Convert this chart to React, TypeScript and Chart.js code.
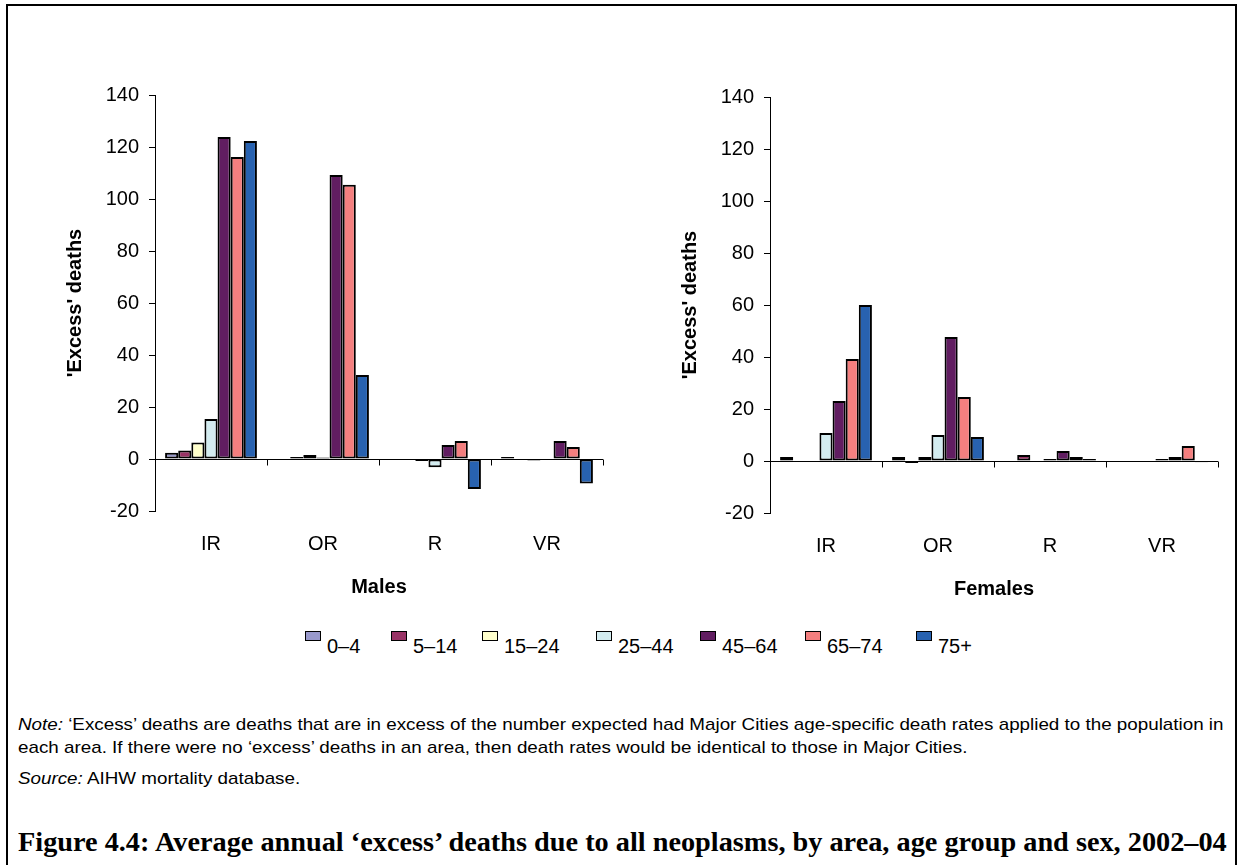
import React, { useEffect, useRef } from 'react';
import { Chart, registerables } from 'chart.js';

Chart.register(...registerables);

// ---------- data ----------
const CATEGORIES = ['IR', 'OR', 'R', 'VR'];
const AGE_GROUPS = ['0–4', '5–14', '15–24', '25–44', '45–64', '65–74', '75+'];
const AGE_COLORS = ['#9999cc', '#993366', '#ffffcc', '#d3ecf0', '#611d61', '#f47f7f', '#2862b0'];

const Y_MIN = -20;
const Y_MAX = 140;
const Y_STEP = 20;

// Males: values per area (IR, OR, R, VR)
const MALES_0_4 = [2.4, null, null, 0.8];
const MALES_5_14 = [3.3, 0.8, null, null];
const MALES_15_24 = [6.3, 1.5, -0.8, -0.6];
const MALES_25_44 = [15.4, 0.6, -3.2, null];
const MALES_45_64 = [123.8, 109.2, 5.4, 6.9];
const MALES_65_74 = [116.2, 105.5, 6.9, 4.6];
const MALES_75_PLUS = [122.3, 32.3, -11.5, -9.4];

// Females: values per area (IR, OR, R, VR)
const FEMALES_0_4 = [1.5, 1.5, null, null];
const FEMALES_5_14 = [null, -0.8, 2.3, null];
const FEMALES_15_24 = [null, 1.5, null, null];
const FEMALES_25_44 = [10.8, 10.0, 0.8, 0.8];
const FEMALES_45_64 = [23.1, 47.7, 3.8, 1.5];
const FEMALES_65_74 = [39.2, 24.6, 1.5, 5.8];
const FEMALES_75_PLUS = [60.0, 9.2, 0.8, -0.5];

const MALE_SERIES = [MALES_0_4, MALES_5_14, MALES_15_24, MALES_25_44, MALES_45_64, MALES_65_74, MALES_75_PLUS];
const FEMALE_SERIES = [FEMALES_0_4, FEMALES_5_14, FEMALES_15_24, FEMALES_25_44, FEMALES_45_64, FEMALES_65_74, FEMALES_75_PLUS];

const Y_TITLE = "'Excess' deaths";
const NOTE_LINE_1 = '‘Excess’ deaths are deaths that are in excess of the number expected had Major Cities age-specific death rates applied to the population in';
const NOTE_LINE_2 = 'each area. If there were no ‘excess’ deaths in an area, then death rates would be identical to those in Major Cities.';
const SOURCE_TEXT = 'AIHW mortality database.';
const CAPTION = 'Figure 4.4: Average annual ‘excess’ deaths due to all neoplasms, by area, age group and sex, 2002–04';

// ---------- layout / styling ----------
const SANS = '"Liberation Sans", Arial, sans-serif';
const SERIF = '"Liberation Serif", "Times New Roman", serif';
const LEGEND_LEFT = [305, 391, 482, 596, 700, 805, 916];

const zeroAxisPlugin = {
  id: 'zeroAxis',
  beforeDatasetsDraw(chart: any) {
    const { ctx, chartArea, scales } = chart;
    const xs = scales.x;
    const y0 = Math.round(scales.y.getPixelForValue(0)) + 0.5;
    ctx.save();
    ctx.strokeStyle = '#000';
    ctx.lineWidth = 1;
    ctx.beginPath();
    ctx.moveTo(chartArea.left, y0);
    ctx.lineTo(chartArea.right, y0);
    const n = CATEGORIES.length;
    for (let i = 1; i <= n; i++) {
      const bx = i < n
        ? (xs.getPixelForValue(i - 1) + xs.getPixelForValue(i)) / 2
        : chartArea.right;
      const px = Math.round(bx) + 0.5;
      ctx.moveTo(px, y0);
      ctx.lineTo(px, y0 + 6);
    }
    ctx.stroke();
    ctx.restore();
  },
};

function makeConfig(series: (number | null)[][], title: string): any {
  return {
    type: 'bar',
    data: {
      labels: CATEGORIES,
      datasets: series.map((vals, i) => ({
        label: AGE_GROUPS[i],
        data: vals,
        backgroundColor: AGE_COLORS[i],
        borderColor: '#000',
        borderWidth: 2,
        borderSkipped: false,
        barPercentage: 1,
        categoryPercentage: 0.82,
      })),
    },
    plugins: [zeroAxisPlugin],
    options: {
      responsive: false,
      animation: false,
      devicePixelRatio: 1,
      layout: { padding: { top: 8, right: 17, bottom: 0, left: 0 } },
      plugins: {
        legend: { display: false },
        tooltip: { enabled: false },
        title: { display: false },
      },
      scales: {
        x: {
          grid: { display: false },
          border: { display: false },
          ticks: { color: '#000', font: { family: SANS, size: 20 }, padding: 13, maxRotation: 0 },
          title: {
            display: true,
            text: title,
            color: '#000',
            font: { family: SANS, size: 20, weight: 'bold' },
            padding: { top: 0, bottom: 11 },
          },
          afterFit: (s: any) => { s.height = 99; },
        },
        y: {
          min: Y_MIN,
          max: Y_MAX,
          ticks: { stepSize: Y_STEP, color: '#000', font: { family: SANS, size: 20 }, padding: 10 },
          grid: { display: true, drawOnChartArea: false, drawTicks: true, tickLength: 6, color: '#000', lineWidth: 1 },
          border: { display: true, color: '#000', width: 1 },
          title: {
            display: true,
            text: Y_TITLE,
            color: '#000',
            font: { family: SANS, size: 20, weight: 'bold' },
            padding: { top: 23, bottom: 0 },
          },
          afterFit: (s: any) => { s.width = 115; },
        },
      },
    },
  };
}

function BarPanel(props: { series: (number | null)[][]; title: string; left: number; top: number }) {
  const ref = useRef<HTMLCanvasElement | null>(null);
  useEffect(() => {
    if (!ref.current) return;
    const chart = new Chart(ref.current, makeConfig(props.series, props.title));
    return () => chart.destroy();
  }, []);
  return (
    <canvas
      ref={ref}
      width={580}
      height={537}
      style={{ position: 'absolute', left: props.left, top: props.top, width: 580, height: 537 }}
    />
  );
}

export default function App() {
  return (
    <div style={{ position: 'absolute', left: 0, top: 0, width: 1240, height: 865, overflow: 'hidden', background: '#fff' }}>
      <div
        style={{
          position: 'absolute', left: 6, top: 4, width: 1231, height: 861,
          boxSizing: 'border-box', borderTop: '2px solid #000', borderLeft: '2px solid #000',
          borderRight: '2px solid #000',
        }}
      />
      <BarPanel series={MALE_SERIES} title="Males" left={40} top={73} />
      <BarPanel series={FEMALE_SERIES} title="Females" left={655} top={75} />

      {AGE_GROUPS.map((g, i) => (
        <div
          key={g}
          style={{
            position: 'absolute', left: LEGEND_LEFT[i], top: 631, display: 'flex', alignItems: 'flex-start',
            fontFamily: SANS, fontSize: 20, color: '#000', whiteSpace: 'nowrap',
          }}
        >
          <div
            style={{
              width: 14, height: 8, marginRight: 6,
              background: AGE_COLORS[i], border: '1px solid #000',
            }}
          />
          <div style={{ lineHeight: '20px', marginTop: 5 }}>{g}</div>
        </div>
      ))}

      <div
        style={{
          position: 'absolute', left: 18, top: 713, fontFamily: SANS, fontSize: 17, lineHeight: '23px',
          color: '#000', whiteSpace: 'nowrap', transform: 'scaleX(1.106)', transformOrigin: '0 0',
        }}
      >
        <div><i>Note:</i> {NOTE_LINE_1}</div>
        <div>{NOTE_LINE_2}</div>
        <div style={{ marginTop: 8 }}><i>Source:</i> {SOURCE_TEXT}</div>
      </div>

      <div
        style={{
          position: 'absolute', left: 18, top: 827, fontFamily: SERIF, fontSize: 28, fontWeight: 'bold',
          color: '#000', whiteSpace: 'nowrap', lineHeight: '30px', transform: 'scaleX(1.01)', transformOrigin: '0 0',
        }}
      >
        {CAPTION}
      </div>
    </div>
  );
}
